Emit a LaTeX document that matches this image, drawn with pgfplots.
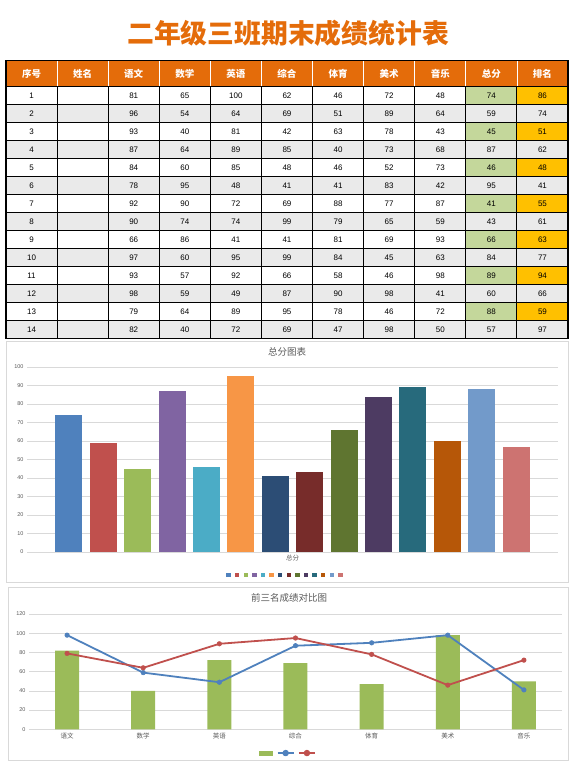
\documentclass[border=0pt]{standalone}
\usepackage{pgfplots}
\pgfplotsset{compat=1.18}
\usepackage{fontspec}
\setmainfont{Liberation Sans}
\newfontfamily\cjk{Noto Sans CJK SC}
\definecolor{hdr}{HTML}{E46C0A}
\definecolor{rowgray}{HTML}{EAEAEA}
\definecolor{tgreen}{HTML}{C4D79B}
\definecolor{tgold}{HTML}{FFC000}
\definecolor{gridc}{HTML}{D9D9D9}
\definecolor{labc}{HTML}{595959}
\definecolor{c1}{HTML}{4F81BD}
\definecolor{c2}{HTML}{C0504D}
\definecolor{c3}{HTML}{9BBB59}
\definecolor{c4}{HTML}{8064A2}
\definecolor{c5}{HTML}{4BACC6}
\definecolor{c6}{HTML}{F79646}
\definecolor{c7}{HTML}{2C4D75}
\definecolor{c8}{HTML}{772C2A}
\definecolor{c9}{HTML}{5F7530}
\definecolor{c10}{HTML}{4D3B62}
\definecolor{c11}{HTML}{276A7C}
\definecolor{c12}{HTML}{B65708}
\definecolor{c13}{HTML}{729ACA}
\definecolor{c14}{HTML}{CD7371}
\begin{document}
\begin{tikzpicture}[x=1pt,y=1pt]
\useasboundingbox (0,0) rectangle (575,-768);
% main title
\node[text=hdr, font=\cjk\bfseries\fontsize{26.8}{28}\selectfont] at (288,-33) {二年级三班期末成绩统计表};
% ---------- table ----------
\def\L{6}\def\W{51.09}\def\R{568}
\def\Ht{-60.7}\def\Hb{-86.3}\def\Tb{-338.3}
\fill[hdr] (\L,\Ht) rectangle (\R,\Hb);
\foreach \name [count=\k] in {序号,姓名,语文,数学,英语,综合,体育,美术,音乐,总分,排名} {
  \node[font=\cjk\bfseries\fontsize{9.5}{10}\selectfont, text=white] at ({\L+\W*(\k-0.5)},{(\Ht+\Hb)/2}) {\name};
}
\foreach \r/\va/\vb/\vc/\vd/\ve/\vf/\vg/\vh/\vk in {
1/81/65/100/62/46/72/48/74/86,
2/96/54/64/69/51/89/64/59/74,
3/93/40/81/42/63/78/43/45/51,
4/87/64/89/85/40/73/68/87/62,
5/84/60/85/48/46/52/73/46/48,
6/78/95/48/41/41/83/42/95/41,
7/92/90/72/69/88/77/87/41/55,
8/90/74/74/99/79/65/59/43/61,
9/66/86/41/41/81/69/93/66/63,
10/97/60/95/99/84/45/63/84/77,
11/93/57/92/66/58/46/98/89/94,
12/98/59/49/87/90/98/41/60/66,
13/79/64/89/95/78/46/72/88/59,
14/82/40/72/69/47/98/50/57/97}{
  \pgfmathsetmacro\yt{-86.3-18*(\r-1)}
  \pgfmathsetmacro\yb{\yt-18}
  \pgfmathsetmacro\ym{\yt-9}
  \ifodd\r
    \fill[tgreen] ({\L+\W*9},\yt) rectangle ({\L+\W*10},\yb);
    \fill[tgold] ({\L+\W*10},\yt) rectangle (\R,\yb);
  \else
    \fill[rowgray] (\L,\yt) rectangle (\R,\yb);
  \fi
  \node[font=\fontsize{8}{9}\selectfont] at ({\L+\W*0.5},\ym) {\r};
  \foreach \v [count=\k from 3] in {\va,\vb,\vc,\vd,\ve,\vf,\vg,\vh,\vk}{
    \node[font=\fontsize{8}{9}\selectfont] at ({\L+\W*(\k-0.5)},\ym) {\v};
  }
}
% borders
\foreach \i in {1,...,10} {
  \draw[white, line width=0.8pt] ({\L+\W*\i},\Ht) -- ({\L+\W*\i},\Hb);
  \draw[black, line width=1pt] ({\L+\W*\i},\Hb) -- ({\L+\W*\i},\Tb);
}
\foreach \j in {0,...,13} {
  \draw[black, line width=1pt] (\L,{-86.3-18*\j}) -- (\R,{-86.3-18*\j});
}
\draw[black, line width=1.2pt] (\L,\Ht) rectangle (\R,\Tb);
% ---------- chart 1 ----------
\draw[gridc, line width=0.8pt] (6.5,-341) rectangle (568,-582);
\node[text=labc, font=\cjk\fontsize{9.5}{10}\selectfont] at (287,-352) {总分图表};
\begin{axis}[at={(27pt,-552pt)}, anchor=south west, scale only axis,
  width=531pt, height=185pt,
  xmin=0, xmax=15, ymin=0, ymax=100,
  ytick={0,10,...,100}, xtick={7.5}, xticklabels={总分},
  ymajorgrids, grid style={draw=gridc, line width=0.7pt},
  axis line style={draw=none}, major tick length=0pt,
  tick label style={text=labc},
  yticklabel style={font=\fontsize{5.5}{6}\selectfont},
  xticklabel style={font=\cjk\fontsize{6.5}{7}\selectfont},
  /pgf/number format/assume math mode=true,
  ybar=7.4pt, bar width=27pt,
  legend columns=14,
  legend image code/.code={\fill[#1] (0pt,-2.2pt) rectangle (4.4pt,2.2pt);},
  legend style={draw=none, fill=none, at={(0.486,-0.124)}, anchor=center,
    /tikz/column sep=0pt, nodes={inner sep=0pt},
    /tikz/every even column/.style={column sep=3.2pt}},
]
\addplot[fill=c1, draw=none] coordinates {(7.5,74)}; \addlegendentry{}
\addplot[fill=c2, draw=none] coordinates {(7.5,59)}; \addlegendentry{}
\addplot[fill=c3, draw=none] coordinates {(7.5,45)}; \addlegendentry{}
\addplot[fill=c4, draw=none] coordinates {(7.5,87)}; \addlegendentry{}
\addplot[fill=c5, draw=none] coordinates {(7.5,46)}; \addlegendentry{}
\addplot[fill=c6, draw=none] coordinates {(7.5,95)}; \addlegendentry{}
\addplot[fill=c7, draw=none] coordinates {(7.5,41)}; \addlegendentry{}
\addplot[fill=c8, draw=none] coordinates {(7.5,43)}; \addlegendentry{}
\addplot[fill=c9, draw=none] coordinates {(7.5,66)}; \addlegendentry{}
\addplot[fill=c10, draw=none] coordinates {(7.5,84)}; \addlegendentry{}
\addplot[fill=c11, draw=none] coordinates {(7.5,89)}; \addlegendentry{}
\addplot[fill=c12, draw=none] coordinates {(7.5,60)}; \addlegendentry{}
\addplot[fill=c13, draw=none] coordinates {(7.5,88)}; \addlegendentry{}
\addplot[fill=c14, draw=none] coordinates {(7.5,57)}; \addlegendentry{}
\end{axis}
% ---------- chart 2 ----------
\draw[gridc, line width=0.8pt] (8,-587) rectangle (568,-760);
\node[text=labc, font=\cjk\fontsize{9.5}{10}\selectfont] at (289,-598) {前三名成绩对比图};
\begin{axis}[at={(29pt,-729.3pt)}, anchor=south west, scale only axis,
  width=533pt, height=115.3pt,
  xmin=-0.5, xmax=6.5, ymin=0, ymax=120,
  ytick={0,20,...,120}, xtick={0,...,6},
  xticklabels={语文,数学,英语,综合,体育,美术,音乐},
  ymajorgrids, grid style={draw=gridc, line width=0.7pt},
  axis line style={draw=none}, major tick length=0pt,
  tick label style={text=labc},
  yticklabel style={font=\fontsize{5.5}{6}\selectfont},
  xticklabel style={font=\cjk\fontsize{6.5}{7}\selectfont},
  /pgf/number format/assume math mode=true,
  legend columns=3,
  legend style={draw=none, fill=none, at={(0.486,-0.206)}, anchor=center,
    /tikz/column sep=0pt, nodes={inner sep=0pt},
    /tikz/every even column/.style={column sep=2.5pt}},
]
\addplot[ybar, bar width=24pt, fill=c3, draw=none,
  legend image code/.code={\fill[c3] (0pt,-2.5pt) rectangle (14pt,2.5pt);}]
  coordinates {(0,82) (1,40) (2,72) (3,69) (4,47) (5,98) (6,50)};
\addlegendentry{}
\addplot[c1, line width=1.8pt, line join=round, mark=*, mark size=2.3pt, mark options={fill=c1, draw=c1, line width=0.5pt},
  legend image code/.code={\draw[c1, line width=1.8pt] (0pt,0pt) -- (16pt,0pt); \fill[c1] (8pt,0pt) circle (2.3pt);}]
  coordinates {(0,98) (1,59) (2,49) (3,87) (4,90) (5,98) (6,41)};
\addlegendentry{}
\addplot[c2, line width=1.8pt, line join=round, mark=*, mark size=2.3pt, mark options={fill=c2, draw=c2, line width=0.5pt},
  legend image code/.code={\draw[c2, line width=1.8pt] (0pt,0pt) -- (16pt,0pt); \fill[c2] (8pt,0pt) circle (2.3pt);}]
  coordinates {(0,79) (1,64) (2,89) (3,95) (4,78) (5,46) (6,72)};
\addlegendentry{}
\end{axis}
\end{tikzpicture}
\end{document}
